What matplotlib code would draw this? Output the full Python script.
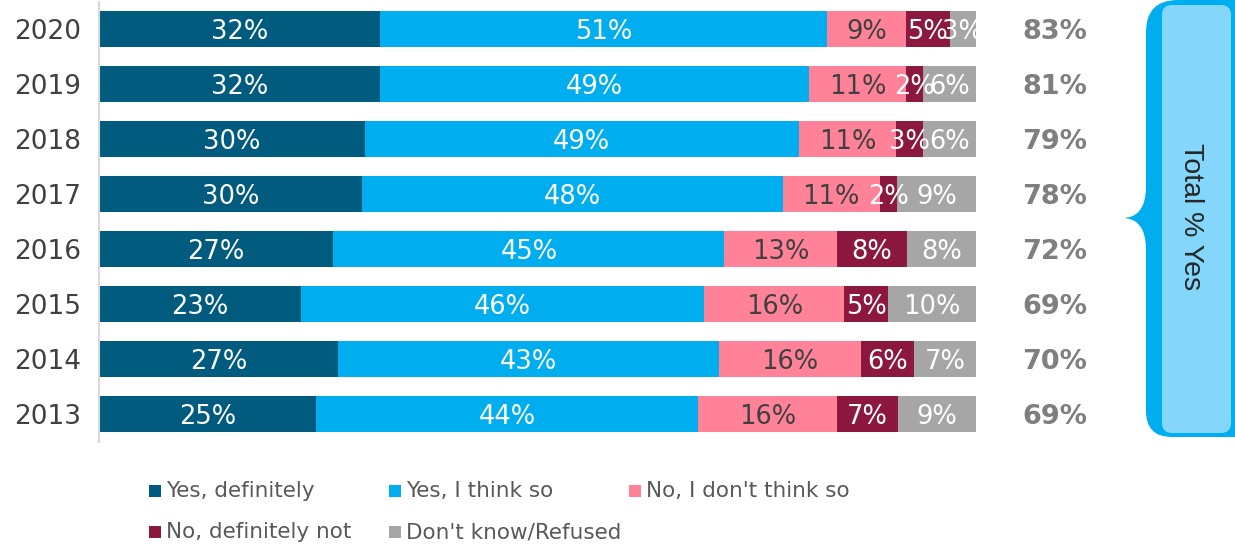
import matplotlib
matplotlib.use("Agg")
import matplotlib.pyplot as plt
from matplotlib.path import Path
from matplotlib.patches import PathPatch, FancyBboxPatch, Rectangle
import numpy as np

plt.rcParams["font.family"] = ["DejaVu Sans"]

# Survey responses by year (percent)
years = ["2020", "2019", "2018", "2017", "2016", "2015", "2014", "2013"]
yes_definitely = [32, 32, 30, 30, 27, 23, 27, 25]
yes_think_so = [51, 49, 49, 48, 45, 46, 43, 44]
no_dont_think = [9, 11, 11, 11, 13, 16, 16, 16]
no_definitely = [5, 2, 3, 2, 8, 5, 6, 7]
dont_know = [3, 6, 6, 9, 8, 10, 7, 9]

series_names = ["Yes, definitely", "Yes, I think so", "No, I don't think so",
                "No, definitely not", "Don't know/Refused"]
series_colors = ["#005B7F", "#00AEEF", "#FF8299", "#8C1840", "#A6A6A6"]
label_colors = ["white", "white", "#404040", "white", "white"]

series = [yes_definitely, yes_think_so, no_dont_think, no_definitely, dont_know]
total_yes = [a + b for a, b in zip(yes_definitely, yes_think_so)]

W, H = 1235, 544
fig = plt.figure(figsize=(W / 100, H / 100), dpi=100)
ax = fig.add_axes([99 / W, 1 - 441.5 / H, 877 / W, 440 / H])

data = np.array(series, dtype=float)
shares = data / data.sum(axis=0) * 100  # each year's bar spans 100%
ypos = np.arange(len(years))

left = np.zeros(len(years))
for vals, share, name, col, lcol in zip(series, shares, series_names,
                                         series_colors, label_colors):
    ax.barh(ypos, share, left=left, height=0.655, color=col,
            edgecolor="none", label=name)
    for y, l, w, v in zip(ypos, left, share, vals):
        ax.text(l + w / 2, y, f"{v}%", ha="center", va="center_baseline",
                color=lcol, fontsize=18.5)
    left += share

for y, t in zip(ypos, total_yes):
    ax.text(109.0, y, f"{t}%", ha="center", va="center_baseline",
            fontsize=19.5, fontweight="bold", color="#7F7F7F", clip_on=False)

ax.set_xlim(0, 100)
ax.set_ylim(len(years) - 0.5, -0.5)
ax.set_yticks(ypos)
ax.set_yticklabels(years, fontsize=19, color="#404040")
ax.tick_params(axis="y", length=0, pad=13)
ax.set_xticks([])
for side in ["top", "right", "bottom"]:
    ax.spines[side].set_visible(False)
ax.spines["left"].set_color("#D9D9D9")
ax.spines["left"].set_linewidth(1.5)

# Overlay in pixel coordinates for the bracket callout and the legend
ov = fig.add_axes([0, 0, 1, 1], zorder=-1)
ov.set_xlim(0, W)
ov.set_ylim(H, 0)
ov.axis("off")

# Outer brace-shaped callout
verts = [
    (1178, 0), (1235, 0), (1235, 437), (1172, 437),
    (1146, 437), (1146, 411),
    (1146, 250),
    (1146, 226), (1136, 218), (1122, 218),
    (1136, 218), (1146, 210), (1146, 186),
    (1146, 32),
    (1146, 0), (1178, 0),
    (1178, 0),
]
codes = [
    Path.MOVETO, Path.LINETO, Path.LINETO, Path.LINETO,
    Path.CURVE3, Path.CURVE3,
    Path.LINETO,
    Path.CURVE4, Path.CURVE4, Path.CURVE4,
    Path.CURVE4, Path.CURVE4, Path.CURVE4,
    Path.LINETO,
    Path.CURVE3, Path.CURVE3,
    Path.CLOSEPOLY,
]
ov.add_patch(PathPatch(Path(verts, codes), facecolor="#00AEEF",
                       edgecolor="none"))
ov.add_patch(FancyBboxPatch((1162, 5), 69, 428,
                            boxstyle="round,pad=0,rounding_size=10",
                            facecolor="#84D7FA", edgecolor="none"))
ov.text(1191, 217, "Total % Yes", rotation=-90, ha="center", va="center",
        fontsize=20.5, family="Liberation Sans", color="#262626")

# Legend
legend_pos = [(149, 491), (389, 491), (629, 491), (149, 532), (389, 532)]
for (lx, ly), name, col in zip(legend_pos, series_names, series_colors):
    ov.add_patch(Rectangle((lx, ly - 6), 12, 12, facecolor=col,
                           edgecolor="none"))
    ov.text(lx + 17, ly, name, ha="left", va="center", fontsize=15.5,
            color="#595959")

fig.savefig("out.png", dpi=100)
